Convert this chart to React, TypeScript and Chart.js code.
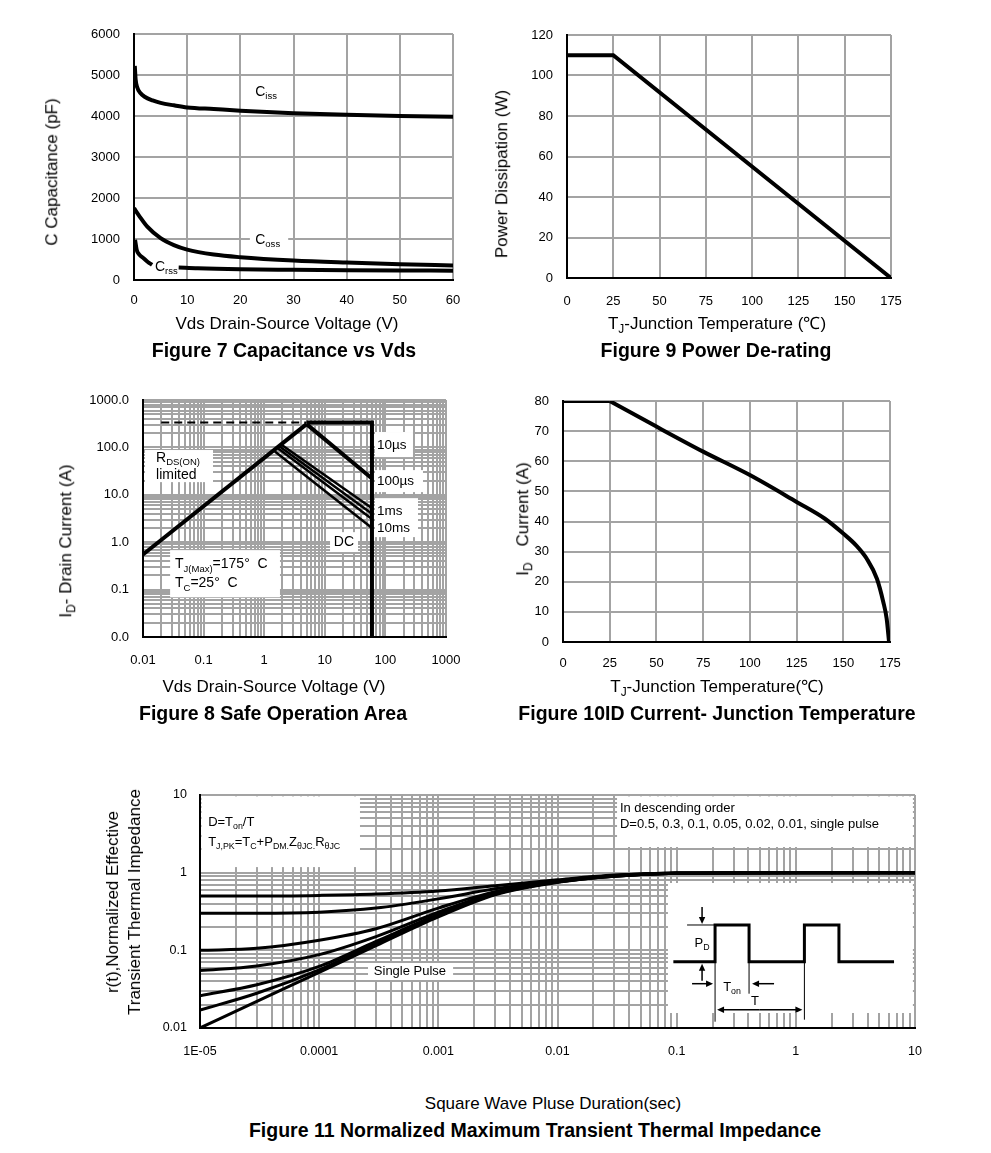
import React, { useEffect, useRef } from 'react';
import { Chart, registerables } from 'chart.js';
Chart.register(...registerables);

const FONT = 'Arial, "Liberation Sans", Helvetica, sans-serif';
const GRID_COLOR = '#a3a3a3';

// ---------- Figure 7: Capacitance vs Vds ----------
const CAP_X_TICKS = [0, 10, 20, 30, 40, 50, 60];
const CAP_Y_TICKS = [0, 1000, 2000, 3000, 4000, 5000, 6000];
const CISS_V = [0.15, 0.3, 0.6, 1.2, 2, 3.5, 5, 7.5, 10, 15, 20, 30, 40, 50, 60];
const CISS_PF = [5220, 4900, 4700, 4560, 4470, 4380, 4320, 4260, 4210, 4170, 4130, 4070, 4030, 4000, 3980];
const COSS_V = [0, 1, 2.5, 5, 7.5, 10, 15, 20, 30, 40, 50, 60];
const COSS_PF = [1750, 1560, 1300, 1020, 850, 740, 620, 555, 475, 425, 385, 355];
const CRSS_V = [0.2, 0.5, 1, 1.8, 2.6, 3.4, 6, 8.4, 12, 20, 30, 40, 50, 60];
const CRSS_PF = [980, 740, 620, 530, 440, 370, null, 305, 285, 262, 250, 240, 233, 228];

// ---------- Figure 9: Power De-rating ----------
const TEMP_TICKS = [0, 25, 50, 75, 100, 125, 150, 175];
const PD_Y_TICKS = [0, 20, 40, 60, 80, 100, 120];
const PD_TJ = [0, 25, 175];
const PD_W = [110, 110, 0];

// ---------- Figure 10: ID vs junction temperature ----------
const ID_Y_TICKS = [0, 10, 20, 30, 40, 50, 60, 70, 80];
const ID_FLAT_TJ = [0, 25];
const ID_FLAT_A = [80, 80];
const ID_TJ = [25, 50, 75, 100, 125, 140, 150, 157, 162.5, 168, 171.4, 173.2, 174.5];
const ID_A = [80, 71.5, 63.2, 55.4, 46.5, 41, 36, 32, 27.7, 21, 13.3, 7.8, 0];

// ---------- Figure 8: Safe Operation Area ----------
const SOA_X_DECADES = [0.01, 0.1, 1, 10, 100, 1000];
const SOA_X_LABELS = ['0.01', '0.1', '1', '10', '100', '1000'];
const SOA_Y_DECADES = [0.01, 0.1, 1, 10, 100, 1000];
const SOA_Y_LABELS = ['0.0', '0.1', '1.0', '10.0', '100.0', '1000.0'];
const RDS_V = [0.01, 5];
const RDS_A = [0.55, 310];
const LIMIT_DASH_V = [0.02, 5];
const LIMIT_DASH_A = [335, 335];
const LIMIT_V = [5, 60, 60];
const LIMIT_A = [335, 335, 0.01];
const T10US_V = [5, 60];
const T10US_A = [310, 22];
const T100US_V = [1.9, 60];
const T100US_A = [115, 5.2];
const T1MS_V = [1.8, 60];
const T1MS_A = [105, 4.0];
const T10MS_V = [1.7, 60];
const T10MS_A = [95, 3.1];
const TDC_V = [1.5, 60];
const TDC_A = [82, 2.0];

// ---------- Figure 11: Transient thermal impedance ----------
const ZTH_X_DECADES = [1e-5, 1e-4, 1e-3, 1e-2, 0.1, 1, 10];
const ZTH_X_LABELS = ['1E-05', '0.0001', '0.001', '0.01', '0.1', '1', '10'];
const ZTH_Y_DECADES = [0.01, 0.1, 1, 10];
const ZTH_Y_LABELS = ['0.01', '0.1', '1', '10'];
const ZTH_T = [1e-5, 3e-5, 1e-4, 3e-4, 1e-3, 3e-3, 1e-2, 3e-2, 0.1, 1, 10];
const ZTH_D05 = [0.5, 0.5, 0.51, 0.53, 0.58, 0.68, 0.81, 0.93, 0.99, 1.0, 1.0];
const ZTH_D03 = [0.3, 0.3, 0.31, 0.35, 0.46, 0.62, 0.79, 0.92, 0.99, 1.0, 1.0];
const ZTH_D01 = [0.1, 0.106, 0.135, 0.19, 0.35, 0.57, 0.78, 0.91, 0.98, 1.0, 1.0];
const ZTH_D005 = [0.055, 0.063, 0.088, 0.15, 0.31, 0.55, 0.77, 0.91, 0.98, 1.0, 1.0];
const ZTH_D002 = [0.026, 0.036, 0.062, 0.13, 0.29, 0.54, 0.76, 0.9, 0.98, 1.0, 1.0];
const ZTH_D001 = [0.017, 0.028, 0.056, 0.122, 0.28, 0.53, 0.76, 0.9, 0.98, 1.0, 1.0];
const ZTH_SINGLE = [0.01, 0.022, 0.052, 0.115, 0.27, 0.52, 0.75, 0.9, 0.98, 1.0, 1.0];
const PULSE_T = [0.0938, 0.21, 0.21, 0.405, 0.405, 1.18, 1.18, 2.3, 2.3, 6.67];
const PULSE_R = [0.0714, 0.0714, 0.212, 0.212, 0.0714, 0.0714, 0.212, 0.212, 0.0714, 0.0714];

// ---------- helpers ----------
type Part = [string, boolean?];
type Note = { x: number; y: number; parts: Part[]; size: number; align?: 'left' | 'center' };
type Box = { x1: number; y1: number; x2: number; y2: number };

const xy = (xs: number[], ys: (number | null)[]) => xs.map((x, i) => ({ x, y: ys[i] }));
function ds(xs: number[], ys: (number | null)[], extra: any = {}) {
  return { data: xy(xs, ys), borderColor: '#000', borderWidth: 4, pointRadius: 0, fill: false, tension: 0, ...extra };
}

function logGrid(decades: number[]) {
  const vals: number[] = [];
  decades.forEach((d, i) => {
    vals.push(d);
    if (i < decades.length - 1) for (let k = 2; k <= 9; k++) vals.push(d * k);
  });
  return vals;
}
function decadeLabel(decades: number[], labels: string[]) {
  return (v: number) => {
    const i = decades.findIndex((d) => Math.abs(d - v) / d < 1e-6);
    return i >= 0 ? labels[i] : '';
  };
}

function axis(o: { type: string; min: number; max: number; ticks: number[]; label: (v: number) => string; size: number; isX: boolean; pad: number; font: number }) {
  return {
    type: o.type,
    min: o.min,
    max: o.max,
    afterBuildTicks: (s: any) => {
      s.ticks = o.ticks.map((v) => ({ value: v }));
    },
    afterFit: (s: any) => {
      if (o.isX) s.height = o.size;
      else s.width = o.size;
      s.paddingTop = 0;
      s.paddingBottom = 0;
      s.paddingLeft = 0;
      s.paddingRight = 0;
    },
    ticks: {
      autoSkip: false,
      maxRotation: 0,
      minRotation: 0,
      padding: o.pad,
      color: '#000',
      font: { family: FONT, size: o.font },
      callback: (v: any) => o.label(Number(v)),
    },
    grid: { color: GRID_COLOR, lineWidth: 2, drawTicks: false },
    border: { display: true, color: '#000', width: 2 },
  };
}

function drawRich(ctx: CanvasRenderingContext2D, x: number, y: number, parts: Part[], size: number, align: 'left' | 'center' = 'left') {
  const sub = size * 0.68;
  const widths = parts.map(([t, s]) => {
    ctx.font = `${s ? sub : size}px ${FONT}`;
    return ctx.measureText(t).width;
  });
  const total = widths.reduce((a, b) => a + b, 0);
  let cx = align === 'center' ? x - total / 2 : x;
  ctx.textBaseline = 'middle';
  ctx.textAlign = 'left';
  ctx.fillStyle = '#000';
  parts.forEach(([t, s], i) => {
    ctx.font = `${s ? sub : size}px ${FONT}`;
    ctx.fillText(t, cx, s ? y + size * 0.32 : y);
    cx += widths[i];
  });
}

function notesPlugin(boxes: Box[], notes: Note[], extra?: (chart: any) => void) {
  return {
    id: 'notes',
    beforeDatasetsDraw(chart: any) {
      const { ctx } = chart;
      const xs = chart.scales.x;
      const ys = chart.scales.y;
      ctx.save();
      ctx.fillStyle = '#fff';
      boxes.forEach((b) => {
        const a = xs.getPixelForValue(b.x1);
        const c = xs.getPixelForValue(b.x2);
        const p = ys.getPixelForValue(b.y1);
        const q = ys.getPixelForValue(b.y2);
        ctx.fillRect(Math.min(a, c), Math.min(p, q), Math.abs(c - a), Math.abs(q - p));
      });
      ctx.restore();
    },
    afterDatasetsDraw(chart: any) {
      const { ctx } = chart;
      const xs = chart.scales.x;
      const ys = chart.scales.y;
      ctx.save();
      notes.forEach((n) => drawRich(ctx, xs.getPixelForValue(n.x), ys.getPixelForValue(n.y), n.parts, n.size, n.align));
      if (extra) extra(chart);
      ctx.restore();
    },
  };
}

function baseOptions(x: any, y: any, padding: any) {
  return {
    responsive: false,
    animation: false,
    devicePixelRatio: 1,
    events: [],
    layout: { padding },
    plugins: { legend: { display: false }, tooltip: { enabled: false }, title: { display: false } },
    elements: { point: { radius: 0 } },
    scales: { x, y },
  };
}

const lin = (ticks: number[]) => (v: number) => String(v);

// ---------- chart configs ----------
function fig7() {
  return {
    type: 'line',
    data: {
      datasets: [
        ds(CISS_V, CISS_PF, { cubicInterpolationMode: 'monotone' }),
        ds(COSS_V, COSS_PF, { cubicInterpolationMode: 'monotone' }),
        ds(CRSS_V, CRSS_PF, { cubicInterpolationMode: 'monotone' }),
      ],
    },
    options: baseOptions(
      axis({ type: 'linear', min: 0, max: 60, ticks: CAP_X_TICKS, label: lin(CAP_X_TICKS), size: 60, isX: true, pad: 13, font: 13 }),
      axis({ type: 'linear', min: 0, max: 6000, ticks: CAP_Y_TICKS, label: lin(CAP_Y_TICKS), size: 94, isX: false, pad: 14, font: 13 }),
      { left: 0, top: 14, right: 27, bottom: 0 }
    ),
    plugins: [
      notesPlugin(
        [{ x1: 21.8, y1: 1146, x2: 29, y2: 805 }],
        [
          { x: 22.8, y: 4585, parts: [['C'], ['iss', true]], size: 14 },
          { x: 22.8, y: 976, parts: [['C'], ['oss', true]], size: 14 },
          { x: 3.95, y: 325, parts: [['C'], ['rss', true]], size: 14 },
        ]
      ),
    ],
  };
}

function fig9() {
  return {
    type: 'line',
    data: { datasets: [ds(PD_TJ, PD_W)] },
    options: baseOptions(
      axis({ type: 'linear', min: 0, max: 175, ticks: TEMP_TICKS, label: lin(TEMP_TICKS), size: 62, isX: true, pad: 16, font: 13 }),
      axis({ type: 'linear', min: 0, max: 120, ticks: PD_Y_TICKS, label: lin(PD_Y_TICKS), size: 77, isX: false, pad: 14, font: 13 }),
      { left: 0, top: 15, right: 39, bottom: 0 }
    ),
  };
}

function fig10() {
  return {
    type: 'line',
    data: {
      datasets: [ds(ID_FLAT_TJ, ID_FLAT_A), ds(ID_TJ, ID_A, { cubicInterpolationMode: 'monotone' })],
    },
    options: baseOptions(
      axis({ type: 'linear', min: 0, max: 175, ticks: TEMP_TICKS, label: lin(TEMP_TICKS), size: 63, isX: true, pad: 14, font: 13 }),
      axis({ type: 'linear', min: 0, max: 80, ticks: ID_Y_TICKS, label: lin(ID_Y_TICKS), size: 73, isX: false, pad: 14, font: 13 }),
      { left: 0, top: 16, right: 40, bottom: 0 }
    ),
  };
}

function fig8() {
  return {
    type: 'line',
    data: {
      datasets: [
        ds(RDS_V, RDS_A),
        ds(LIMIT_DASH_V, LIMIT_DASH_A, { borderWidth: 2, borderDash: [8, 5] }),
        ds(LIMIT_V, LIMIT_A, { borderJoinStyle: 'miter' }),
        ds(T10US_V, T10US_A),
        ds(T100US_V, T100US_A, { borderWidth: 2.5 }),
        ds(T1MS_V, T1MS_A, { borderWidth: 2.5 }),
        ds(T10MS_V, T10MS_A, { borderWidth: 2.5 }),
        ds(TDC_V, TDC_A, { borderWidth: 2.5 }),
      ],
    },
    options: baseOptions(
      axis({ type: 'logarithmic', min: 0.01, max: 1000, ticks: logGrid(SOA_X_DECADES), label: decadeLabel(SOA_X_DECADES, SOA_X_LABELS), size: 68, isX: true, pad: 16, font: 13 }),
      axis({ type: 'logarithmic', min: 0.01, max: 1000, ticks: logGrid(SOA_Y_DECADES), label: decadeLabel(SOA_Y_DECADES, SOA_Y_LABELS), size: 103, isX: false, pad: 14, font: 13 }),
      { left: 0, top: 15, right: 34, bottom: 0 }
    ),
    plugins: [
      notesPlugin(
        [
          { x1: 0.0108, y1: 88, x2: 0.143, y2: 18.5 },
          { x1: 0.028, y1: 0.68, x2: 1.82, y2: 0.069 },
          { x1: 12.2, y1: 1.63, x2: 35.3, y2: 0.62 },
          { x1: 67.3, y1: 211, x2: 285, y2: 62.5 },
          { x1: 67.3, y1: 33.2, x2: 417, y2: 11.4 },
          { x1: 67.3, y1: 8.5, x2: 345, y2: 1.28 },
        ],
        [
          { x: 0.0164, y: 59.6, parts: [['R'], ['DS(ON)', true]], size: 14 },
          { x: 0.0164, y: 26, parts: [['limited']], size: 14 },
          { x: 0.0337, y: 0.339, parts: [['T'], ['J(Max)', true], ['=175°  C']], size: 14 },
          { x: 0.0337, y: 0.135, parts: [['T'], ['C', true], ['=25°  C']], size: 14 },
          { x: 20.7, y: 1.0, parts: [['DC']], size: 14, align: 'center' },
          { x: 72.6, y: 112, parts: [['10µs']], size: 13.5 },
          { x: 72.6, y: 19.5, parts: [['100µs']], size: 13.5 },
          { x: 72.6, y: 4.5, parts: [['1ms']], size: 13.5 },
          { x: 72.6, y: 1.98, parts: [['10ms']], size: 13.5 },
        ]
      ),
    ],
  };
}

function arrow(ctx: CanvasRenderingContext2D, x1: number, y1: number, x2: number, y2: number) {
  const a = Math.atan2(y2 - y1, x2 - x1);
  const L = 7;
  const W = 3.2;
  ctx.beginPath();
  ctx.moveTo(x1, y1);
  ctx.lineTo(x2 - Math.cos(a) * L * 0.8, y2 - Math.sin(a) * L * 0.8);
  ctx.stroke();
  ctx.beginPath();
  ctx.moveTo(x2, y2);
  ctx.lineTo(x2 - Math.cos(a) * L - Math.sin(a) * W, y2 - Math.sin(a) * L + Math.cos(a) * W);
  ctx.lineTo(x2 - Math.cos(a) * L + Math.sin(a) * W, y2 - Math.sin(a) * L - Math.cos(a) * W);
  ctx.closePath();
  ctx.fill();
}

function pulseMarks(chart: any) {
  const { ctx } = chart;
  const xs = chart.scales.x;
  const ys = chart.scales.y;
  const r1 = xs.getPixelForValue(PULSE_T[1]);
  const f1 = xs.getPixelForValue(PULSE_T[3]);
  const r2 = xs.getPixelForValue(PULSE_T[5]);
  const hi = ys.getPixelForValue(PULSE_R[2]);
  const lo = ys.getPixelForValue(PULSE_R[0]);
  ctx.strokeStyle = '#000';
  ctx.fillStyle = '#000';
  ctx.lineWidth = 1;
  const line = (a: number, b: number, c: number, d: number) => {
    ctx.beginPath();
    ctx.moveTo(a, b);
    ctx.lineTo(c, d);
    ctx.stroke();
  };
  line(r1 - 28, hi, r1, hi);
  line(r1, lo, r1, lo + 60);
  line(f1, lo, f1, lo + 32);
  line(r2, lo, r2, lo + 58);
  ctx.lineWidth = 1.5;
  arrow(ctx, r1 - 13, hi - 18, r1 - 13, hi - 1);
  arrow(ctx, r1 - 13, lo + 19, r1 - 13, lo + 2);
  arrow(ctx, r1 - 23, lo + 22, r1 - 2, lo + 22);
  arrow(ctx, f1 + 25, lo + 22, f1 + 3, lo + 22);
  arrow(ctx, (r1 + r2) / 2, lo + 48, r1 + 2, lo + 48);
  arrow(ctx, (r1 + r2) / 2, lo + 48, r2 - 2, lo + 48);
  drawRich(ctx, r1 - 13, (hi + lo) / 2, [['P'], ['D', true]], 13, 'center');
  drawRich(ctx, (r1 + f1) / 2, lo + 26, [['T'], ['on', true]], 13, 'center');
  drawRich(ctx, r1 + 40, lo + 40, [['T']], 13, 'center');
}

function fig11() {
  const curve = (ys: number[]) => ds(ZTH_T, ys, { borderWidth: 3, cubicInterpolationMode: 'monotone' });
  return {
    type: 'line',
    data: {
      datasets: [
        curve(ZTH_D05),
        curve(ZTH_D03),
        curve(ZTH_D01),
        curve(ZTH_D005),
        curve(ZTH_D002),
        curve(ZTH_D001),
        curve(ZTH_SINGLE),
        ds(PULSE_T, PULSE_R, { borderWidth: 3, borderJoinStyle: 'miter' }),
      ],
    },
    options: baseOptions(
      axis({ type: 'logarithmic', min: 1e-5, max: 10, ticks: logGrid(ZTH_X_DECADES), label: decadeLabel(ZTH_X_DECADES, ZTH_X_LABELS), size: 52, isX: true, pad: 16.5, font: 12.5 }),
      axis({ type: 'logarithmic', min: 0.01, max: 10, ticks: logGrid(ZTH_Y_DECADES), label: decadeLabel(ZTH_Y_DECADES, ZTH_Y_LABELS), size: 110, isX: false, pad: 13, font: 12.5 }),
      { left: 0, top: 15, right: 25, bottom: 0 }
    ),
    plugins: [
      notesPlugin(
        [
          { x1: 1.03e-5, y1: 9.6, x2: 2.2e-4, y2: 1.18 },
          { x1: 0.0316, y1: 9.6, x2: 9.6, y2: 2.14 },
          { x1: 2.57e-4, y1: 0.0687, x2: 1.33e-3, y2: 0.0415 },
          { x1: 0.0845, y1: 0.736, x2: 9.6, y2: 0.0156 },
        ],
        [
          { x: 1.17e-5, y: 4.49, parts: [['D=T'], ['on', true], ['/T']], size: 13 },
          {
            x: 1.17e-5,
            y: 2.48,
            parts: [['T'], ['J,PK', true], ['=T'], ['C', true], ['+P'], ['DM.', true], ['Z'], ['θJC.', true], ['R'], ['θJC', true]],
            size: 13,
          },
          { x: 0.0334, y: 6.8, parts: [['In descending order']], size: 13 },
          { x: 0.0334, y: 4.23, parts: [['D=0.5, 0.3, 0.1, 0.05, 0.02, 0.01, single pulse']], size: 13 },
          { x: 5.78e-4, y: 0.0542, parts: [['Single Pulse']], size: 13, align: 'center' },
        ],
        pulseMarks
      ),
    ],
  };
}

// ---------- components ----------
function ChartCanvas({ left, top, width, height, make }: any) {
  const ref = useRef<HTMLCanvasElement>(null);
  useEffect(() => {
    const chart = new Chart(ref.current as HTMLCanvasElement, make() as any);
    return () => chart.destroy();
  }, []);
  return <canvas ref={ref} width={width} height={height} style={{ position: 'absolute', left, top, width, height }} />;
}

const Sub = ({ children }: any) => (
  <span style={{ fontSize: '0.7em', position: 'relative', top: '0.3em' }}>{children}</span>
);

function Label({ x, y, rot, size = 17, bold = false, children, lh }: any) {
  return (
    <div
      style={{
        position: 'absolute',
        left: x,
        top: y,
        transform: `translate(-50%, -50%)${rot ? ' rotate(-90deg)' : ''}`,
        fontFamily: FONT,
        fontSize: size,
        fontWeight: bold ? 'bold' : 'normal',
        whiteSpace: 'nowrap',
        lineHeight: lh || 1.15,
        textAlign: 'center',
        color: '#000',
      }}
    >
      {children}
    </div>
  );
}

export default function App() {
  return (
    <div style={{ position: 'absolute', left: 0, top: 0, width: 991, height: 1153, background: '#fff', overflow: 'hidden' }}>
      <ChartCanvas left={40} top={20} width={440} height={320} make={fig7} />
      <ChartCanvas left={490} top={20} width={440} height={320} make={fig9} />
      <ChartCanvas left={40} top={385} width={440} height={320} make={fig8} />
      <ChartCanvas left={490} top={385} width={440} height={320} make={fig10} />
      <ChartCanvas left={90} top={780} width={850} height={300} make={fig11} />

      <Label x={287} y={324}>Vds Drain-Source Voltage (V)</Label>
      <Label x={52} y={172} rot>C Capacitance (pF)</Label>
      <Label x={284} y={350} size={19.5} bold>Figure 7 Capacitance vs Vds</Label>

      <Label x={717} y={324}>T<Sub>J</Sub>-Junction Temperature (℃)</Label>
      <Label x={502} y={174} rot>Power Dissipation (W)</Label>
      <Label x={716} y={350} size={19.5} bold>Figure 9 Power De-rating</Label>

      <Label x={274} y={687}>Vds Drain-Source Voltage (V)</Label>
      <Label x={66} y={541} rot>I<Sub>D</Sub>- Drain Current (A)</Label>
      <Label x={273} y={713} size={19.5} bold>Figure 8 Safe Operation Area</Label>

      <Label x={717} y={687}>T<Sub>J</Sub>-Junction Temperature(℃)</Label>
      <Label x={523} y={519} rot>
        I<Sub>D</Sub>
        <span style={{ marginLeft: 16 }}>Current (A)</span>
      </Label>
      <Label x={717} y={713} size={19.5} bold>Figure 10ID Current- Junction Temperature</Label>

      <Label x={553} y={1104}>Square Wave Pluse Duration(sec)</Label>
      <Label x={124} y={902} rot lh="22px">
        r(t),Normalized Effective
        <br />
        Transient Thermal Impedance
      </Label>
      <Label x={535} y={1130} size={19.5} bold>Figure 11 Normalized Maximum Transient Thermal Impedance</Label>
    </div>
  );
}
